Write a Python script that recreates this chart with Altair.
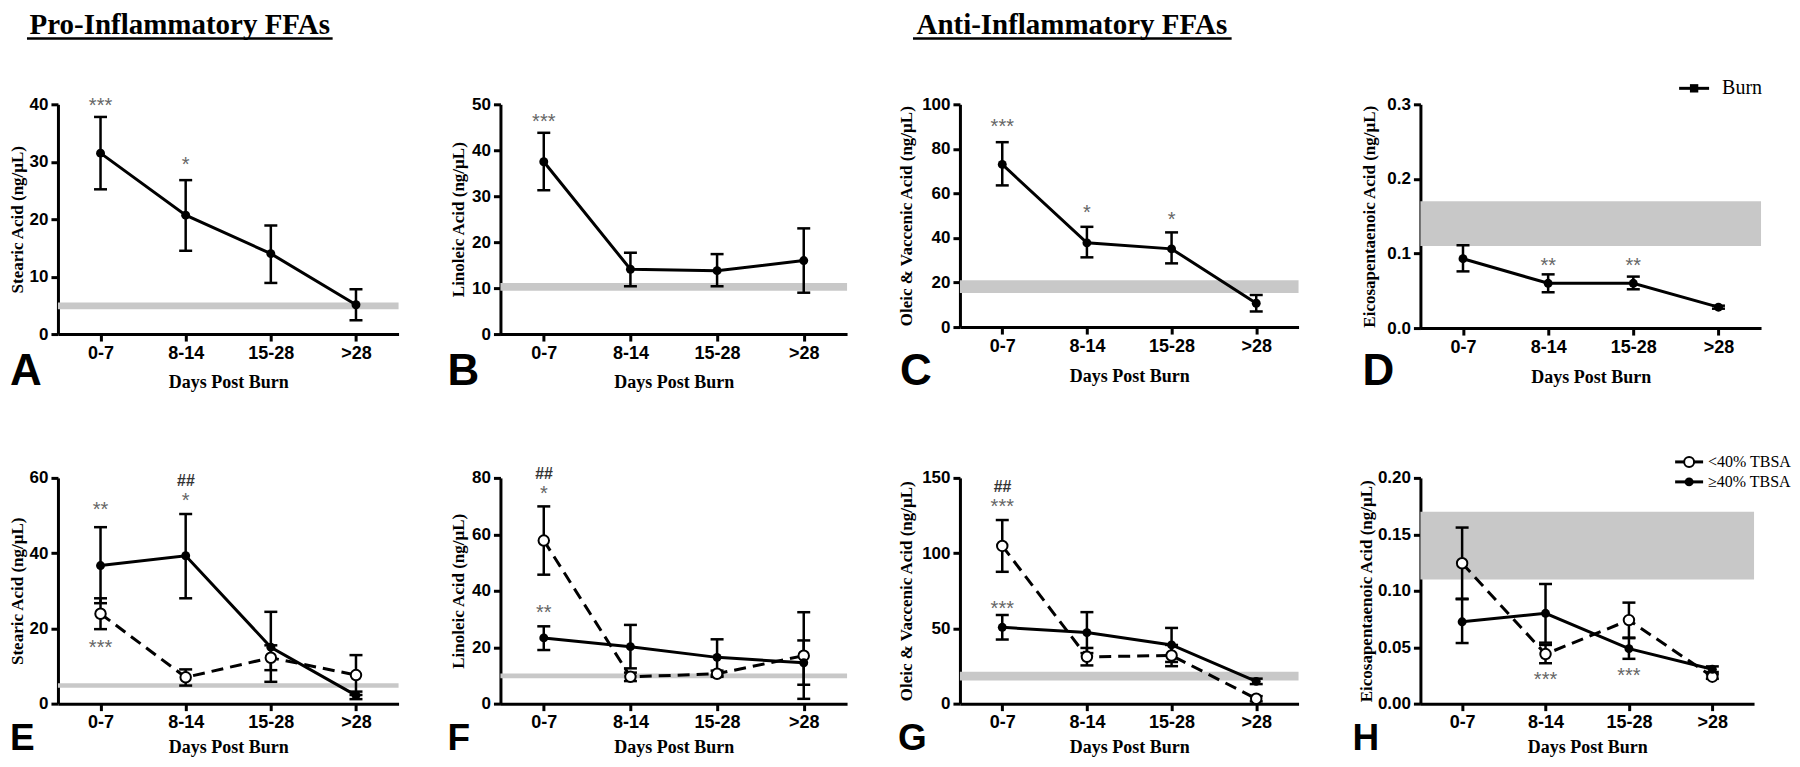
import altair as alt
import pandas as pd

cats = ["0-7", "8-14", "15-28", ">28"]

# ---------- Top row: all burn patients ----------
a_mean = [31.5, 20.7, 14.0, 5.1]
a_lo = [25.2, 14.5, 8.9, 2.4]
a_hi = [37.8, 26.8, 18.9, 7.8]
a_band = [4.3, 5.5]
a_ann_cat = ["0-7", "8-14"]
a_ann_txt = ["***", "*"]
a_ann_y = [40.4, 30.1]

b_mean = [37.5, 14.1, 13.8, 16.0]
b_lo = [31.3, 10.4, 10.4, 9.0]
b_hi = [43.8, 17.7, 17.4, 23.0]
b_band = [9.4, 11.1]
b_ann_cat = ["0-7"]
b_ann_txt = ["***"]
b_ann_y = [47.1]

c_mean = [73.0, 37.8, 35.1, 10.7]
c_lo = [63.6, 31.3, 28.6, 7.0]
c_hi = [83.0, 45.0, 42.5, 14.4]
c_band = [15.3, 21.0]
c_ann_cat = ["0-7", "8-14", "15-28"]
c_ann_txt = ["***", "*", "*"]
c_ann_y = [91.4, 53.1, 50.0]

d_mean = [0.093, 0.060, 0.060, 0.028]
d_lo = [0.076, 0.048, 0.052, 0.026]
d_hi = [0.111, 0.072, 0.069, 0.030]
d_band = [0.11, 0.17]
d_ann_cat = ["8-14", "15-28"]
d_ann_txt = ["**", "**"]
d_ann_y = [0.0885, 0.0885]

# ---------- Bottom row: <40% TBSA (open) vs >=40% TBSA (filled) ----------
e_hi_mean = [36.7, 39.3, 15.0, 2.2]
e_hi_lo = [26.7, 28.0, 5.8, 1.2]
e_hi_hi = [46.9, 50.4, 24.4, 3.2]
e_lo_mean = [23.9, 7.0, 12.2, 7.6]
e_lo_lo = [19.8, 4.8, 8.9, 2.3]
e_lo_hi = [28.0, 9.1, 15.5, 12.9]
e_band = [4.2, 5.4]
e_ann_cat = ["0-7", "8-14", "8-14", "0-7"]
e_ann_txt = ["**", "##", "*", "***"]
e_ann_y = [52.4, 59.4, 55.0, 15.8]

f_hi_mean = [23.3, 20.2, 16.4, 14.5]
f_hi_lo = [19.0, 12.5, 10.0, 6.7]
f_hi_hi = [27.4, 27.9, 22.8, 22.4]
f_lo_mean = [57.8, 9.5, 10.6, 17.0]
f_lo_lo = [45.7, 8.0, 9.5, 1.7]
f_lo_hi = [69.9, 11.0, 11.7, 32.4]
f_band = [9.0, 10.7]
f_ann_cat = ["0-7", "0-7", "0-7"]
f_ann_txt = ["##", "*", "**"]
f_ann_y = [81.7, 75.8, 33.4]

g_hi_mean = [50.7, 47.2, 39.0, 14.8]
g_hi_lo = [42.6, 33.6, 27.7, 13.0]
g_hi_hi = [58.9, 60.8, 50.3, 16.6]
g_lo_mean = [104.8, 31.1, 32.0, 3.3]
g_lo_lo = [87.6, 25.4, 24.9, 1.5]
g_lo_hi = [122.0, 37.0, 39.0, 5.0]
g_band = [15.4, 21.2]
g_ann_cat = ["0-7", "0-7", "0-7"]
g_ann_txt = ["##", "***", "***"]
g_ann_y = [144.9, 133.4, 65.5]

h_hi_mean = [0.0725, 0.080, 0.0487, 0.0304]
h_hi_lo = [0.0537, 0.054, 0.0397, 0.028]
h_hi_hi = [0.0925, 0.106, 0.058, 0.033]
h_lo_mean = [0.1244, 0.0439, 0.074, 0.0239]
h_lo_lo = [0.093, 0.0358, 0.0585, 0.022]
h_lo_hi = [0.156, 0.052, 0.0895, 0.026]
h_band = [0.11, 0.17]
h_ann_cat = ["8-14", "15-28"]
h_ann_txt = ["***", "***"]
h_ann_y = [0.0245, 0.0284]

ONE = pd.DataFrame({"k": [0]})
SANS = "Liberation Sans"
SERIF = "Liberation Serif"


def series_df(mean, lo, hi):
    return pd.DataFrame({"cat": cats, "idx": list(range(len(cats))),
                         "mean": mean, "lo": lo, "hi": hi})


def ann_df(c, t, y):
    return pd.DataFrame({"cat": c, "label": t, "ypos": y,
                         "hash": [s.startswith("#") for s in t]})


def txt(text, x, y, size, font=SANS, weight="normal", align="left",
        baseline="alphabetic", color="black"):
    return alt.Chart(ONE).mark_text(
        text=text, align=align, baseline=baseline, font=font, fontSize=size,
        fontWeight=weight, color=color
    ).encode(x=alt.value(x), y=alt.value(y))


def hrule(x1, x2, y, w=3, opacity=1):
    return alt.Chart(ONE).mark_rule(color="black", strokeWidth=w, opacity=opacity).encode(
        x=alt.value(x1), x2=alt.value(x2), y=alt.value(y))


def marker(x, y, open_):
    if open_:
        m = alt.Chart(ONE).mark_point(shape="circle", filled=True, fill="white",
                                      stroke="black", strokeWidth=2, size=100, opacity=1)
    else:
        m = alt.Chart(ONE).mark_point(shape="circle", filled=True, color="black",
                                      size=80, opacity=1)
    return m.encode(x=alt.value(x), y=alt.value(y))


AX = dict(domainColor="black", domainWidth=3, tickColor="black", tickWidth=3,
          tickSize=7, labelColor="black", labelFont=SANS, labelFontWeight="bold",
          labelPadding=3, titleColor="black", titleFont=SERIF,
          titleFontWeight="bold", grid=False)


def panel(w, h, ymax, yticks, yfmt, ytitle, title_x, band, series, ann,
          letter, letter_x, letter_y, letter_size, xtitle_y, extras):
    yscale = alt.Scale(domain=[0, ymax], nice=False, zero=True)
    yaxis = alt.Axis(values=yticks, format=yfmt, title=ytitle, titleX=title_x,
                     titleY=h / 2, titleAngle=-90, titleAlign="center",
                     titleBaseline="middle", labelFontSize=17, titleFontSize=17, **AX)
    xaxis = alt.Axis(title="Days Post Burn", labelAngle=0, titleY=xtitle_y,
                     titleBaseline="middle", labelFontSize=18, titleFontSize=18, **AX)

    def X():
        return alt.X("cat:N", scale=alt.Scale(type="point", domain=cats, padding=0.5),
                     axis=xaxis)

    def Y(f):
        return alt.Y(f + ":Q", scale=yscale, axis=yaxis)

    layers = []
    bdf = pd.DataFrame({"lo": [band[0]], "hi": [band[1]]})
    layers.append(alt.Chart(bdf).mark_rect(color="#c8c8c8").encode(
        x=alt.value(0), x2=alt.value(w), y=Y("lo"), y2=alt.Y2("hi")))

    for df, open_ in series:
        layers.append(alt.Chart(df).mark_rule(color="black", strokeWidth=2.5).encode(
            x=X(), y=Y("lo"), y2=alt.Y2("hi")))
        for f in ["lo", "hi"]:
            layers.append(alt.Chart(df).mark_tick(color="black", thickness=2.5, size=13,
                                                  orient="horizontal", opacity=1).encode(
                x=X(), y=Y(f)))
    for df, open_ in series:
        if open_:
            ln = alt.Chart(df).mark_line(color="black", strokeWidth=3, strokeDash=[12, 7])
        else:
            ln = alt.Chart(df).mark_line(color="black", strokeWidth=3)
        layers.append(ln.encode(x=X(), y=Y("mean"), order=alt.Order("idx:Q")))
    for df, open_ in series:
        if open_:
            pt = alt.Chart(df).mark_point(shape="circle", filled=True, fill="white",
                                          stroke="black", strokeWidth=2, size=110, opacity=1)
        else:
            pt = alt.Chart(df).mark_point(shape="circle", filled=True, color="black",
                                          size=80, opacity=1)
        layers.append(pt.encode(x=X(), y=Y("mean")))

    adf = ann
    layers.append(alt.Chart(adf).transform_filter("!datum.hash").mark_text(
        font=SANS, fontSize=20, color="#666666", dy=4, baseline="middle").encode(
        x=X(), y=Y("ypos"), text="label:N"))
    layers.append(alt.Chart(adf).transform_filter("datum.hash").mark_text(
        font=SANS, fontSize=16, color="#333333", fontStyle="italic", fontWeight="bold",
        baseline="middle", dy=1).encode(
        x=X(), y=Y("ypos"), text="label:N"))

    layers.append(txt(letter, letter_x, letter_y, letter_size, weight="bold"))
    layers.extend(extras)
    return alt.layer(*layers).properties(width=w, height=h)


def spacer(w):
    return alt.Chart(ONE).mark_point(opacity=0).encode(
        x=alt.value(0), y=alt.value(0)).properties(width=w, height=1)


TOP_H = 230
BOT_H = 226

pA = panel(341, TOP_H, 40, [0, 10, 20, 30, 40], "d", "Stearic Acid (ng/µL)", -40,
           a_band, [(series_df(a_mean, a_lo, a_hi), False)],
           ann_df(a_ann_cat, a_ann_txt, a_ann_y), "A", -48, 281, 44, 49,
           [hrule(0, 10, -95.5, w=1, opacity=0),
            txt("Pro-Inflammatory FFAs", 122, -93, 29, font=SERIF, weight="bold",
                align="center", baseline="top"),
            hrule(-31, 275, -66, 2.5)])
pB = panel(347, TOP_H, 50, [0, 10, 20, 30, 40, 50], "d", "Linoleic Acid (ng/µL)", -42,
           b_band, [(series_df(b_mean, b_lo, b_hi), False)],
           ann_df(b_ann_cat, b_ann_txt, b_ann_y), "B", -53, 281, 44, 49, [])
pC = panel(339, 223, 100, [0, 20, 40, 60, 80, 100], "d",
           "Oleic & Vaccenic Acid (ng/µL)", -53,
           c_band, [(series_df(c_mean, c_lo, c_hi), False)],
           ann_df(c_ann_cat, c_ann_txt, c_ann_y), "C", -60, 281, 44, 49,
           [txt("Anti-Inflammatory FFAs", 112, -93, 29, font=SERIF, weight="bold",
                align="center", baseline="top"),
            hrule(-47, 272, -66, 2.5)])
pD = panel(341, 224, 0.3, [0, 0.1, 0.2, 0.3], ".1f",
           "Eicosapentaenoic Acid (ng/µL)", -51,
           d_band, [(series_df(d_mean, d_lo, d_hi), False)],
           ann_df(d_ann_cat, d_ann_txt, d_ann_y), "D", -58, 281, 44, 49,
           [hrule(259, 289, -16),
            alt.Chart(ONE).mark_point(shape="square", filled=True, color="black",
                                      size=70, opacity=1).encode(
                x=alt.value(274), y=alt.value(-16)),
            txt("Burn", 302, -16, 20, font=SERIF, baseline="middle")])

pE = panel(341, BOT_H, 60, [0, 20, 40, 60], "d", "Stearic Acid (ng/µL)", -40,
           e_band, [(series_df(e_lo_mean, e_lo_lo, e_lo_hi), True),
                    (series_df(e_hi_mean, e_hi_lo, e_hi_hi), False)],
           ann_df(e_ann_cat, e_ann_txt, e_ann_y), "E", -48, 272, 37, 44, [])
pF = panel(347, BOT_H, 80, [0, 20, 40, 60, 80], "d", "Linoleic Acid (ng/µL)", -42,
           f_band, [(series_df(f_lo_mean, f_lo_lo, f_lo_hi), True),
                    (series_df(f_hi_mean, f_hi_lo, f_hi_hi), False)],
           ann_df(f_ann_cat, f_ann_txt, f_ann_y), "F", -53, 272, 37, 44, [])
pG = panel(339, BOT_H, 150, [0, 50, 100, 150], "d",
           "Oleic & Vaccenic Acid (ng/µL)", -53,
           g_band, [(series_df(g_lo_mean, g_lo_lo, g_lo_hi), True),
                    (series_df(g_hi_mean, g_hi_lo, g_hi_hi), False)],
           ann_df(g_ann_cat, g_ann_txt, g_ann_y), "G", -62, 272, 37, 44, [])
pH = panel(334, BOT_H, 0.2, [0, 0.05, 0.10, 0.15, 0.20], ".2f",
           "Eicosapentaenoic Acid (ng/µL)", -54,
           h_band, [(series_df(h_lo_mean, h_lo_lo, h_lo_hi), True),
                    (series_df(h_hi_mean, h_hi_lo, h_hi_hi), False)],
           ann_df(h_ann_cat, h_ann_txt, h_ann_y), "H", -68, 272, 37, 44,
           [hrule(255, 283, -16), marker(269, -16, True),
            txt("<40% TBSA", 288, -16, 16, font=SERIF, baseline="middle"),
            hrule(255, 283, 4), marker(269, 4, False),
            txt("≥40% TBSA", 288, 4, 16, font=SERIF, baseline="middle")])

views = [pA, spacer(102), pB, spacer(113), pC, spacer(122), pD,
         pE, spacer(102), pF, spacer(113), pG, spacer(122), pH]

chart = alt.concat(*views, columns=7, spacing={"row": 144, "column": 0},
                   bounds="flush").properties(
    padding=0, background="white"
).configure_view(stroke="transparent")

chart.save("out.html", embed_options={"renderer": "svg", "actions": False})
